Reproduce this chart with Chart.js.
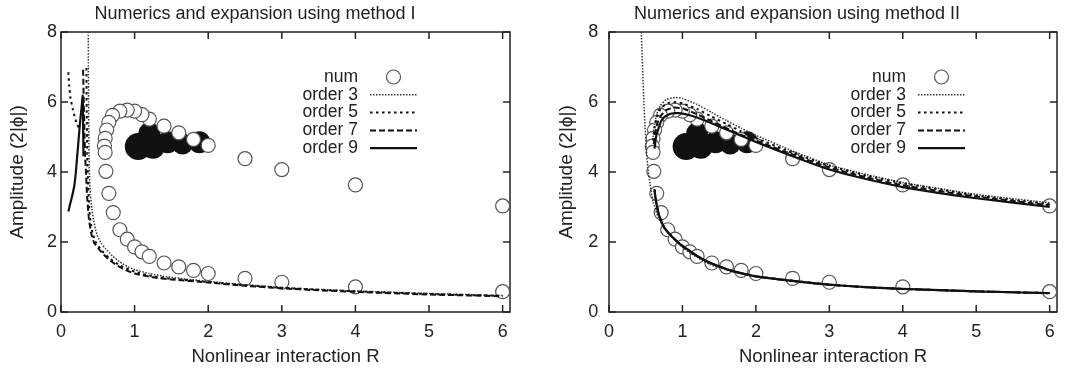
<!DOCTYPE html>
<html>
<head>
<meta charset="utf-8">
<script src="https://cdn.jsdelivr.net/npm/chart.js@4.4.0/dist/chart.umd.min.js"></script>
<style>
  body { margin: 0; background: #fff; }
  #wrap { position: relative; width: 1075px; height: 372px; }
  canvas { position: absolute; top: 0; }
</style>
</head>
<body>
<div id="wrap">
  <canvas id="chartI" width="537" height="372" style="left:0"></canvas>
  <canvas id="chartII" width="538" height="372" style="left:537px"></canvas>
</div>
<script>
// ---- axis ticks ----
const xTicks = [0, 1, 2, 3, 4, 5, 6];
const yTicks = [0, 2, 4, 6, 8];

// ---- numerics (open circles), same in both panels ----
const numR = [6.0, 4.0, 3.0, 2.5, 2.0, 1.8, 1.6, 1.4, 1.2, 1.1, 1.0, 0.9, 0.8, 0.7, 0.65, 0.62, 0.6, 0.59, 0.6, 0.61,
              0.65, 0.71, 0.8, 0.9, 1.0, 1.1, 1.2, 1.4, 1.6, 1.8, 2.0, 2.5, 3.0, 4.0, 6.0];
const numA = [3.03, 3.63, 4.07, 4.38, 4.76, 4.93, 5.12, 5.31, 5.51, 5.64, 5.74, 5.77, 5.74, 5.62, 5.42, 5.2, 4.96, 4.74, 4.56, 4.02,
              3.39, 2.84, 2.35, 2.08, 1.86, 1.72, 1.59, 1.40, 1.29, 1.19, 1.10, 0.96, 0.85, 0.72, 0.58];

// filled (black) points behind the upper branch, with their marker size
const blobR = [1.05, 1.25, 1.2, 1.45, 1.65, 1.88];
const blobA = [4.73, 4.72, 5.1, 4.85, 4.8, 4.85];
const blobSize = [13.5, 12, 11, 11, 10.5, 11];

// ---- method I expansions (null = break in the curve) ----
const m1o3R = [0.37, 0.372, 0.375, 0.378, 0.382, 0.39, 0.40, 0.42, 0.44, 0.47, 0.5, 0.55, 0.6, 0.7, 0.8, 0.9, 1.0, 1.2, 1.4, 1.7, 2.0, 2.5, 3.0, 3.5, 4.0, 5.0, 6.0];
const m1o3A = [8.0, 7.0, 6.0, 5.0, 4.3, 3.75, 3.35, 2.95, 2.65, 2.35, 2.15, 1.95, 1.82, 1.6, 1.43, 1.3, 1.21, 1.1, 1.02, 0.94, 0.875, 0.78, 0.7, 0.645, 0.6, 0.53, 0.47];

const m1o5R = [0.10, 0.11, 0.13, 0.16, 0.19, 0.22, 0.25, null, 0.345, 0.347, 0.35, 0.353, 0.357, 0.365, 0.38, 0.4, 0.43, 0.47, 0.55, 0.65, 0.8, 1.0, 1.25, 1.5, 2.0, 2.5, 3.0, 4.0, 5.0, 6.0];
const m1o5A = [6.85, 6.5, 6.1, 5.8, 5.55, 5.35, 5.25, null, 6.97, 6.3, 5.6, 5.0, 4.4, 3.8, 3.1, 2.6, 2.25, 2.0, 1.76, 1.55, 1.33, 1.15, 1.02, 0.95, 0.855, 0.765, 0.69, 0.59, 0.515, 0.46];

const m1o7R = [0.30, 0.305, 0.31, 0.318, 0.327, 0.34, 0.355, 0.38, 0.41, 0.45, 0.53, 0.6, 0.7, 0.8, 0.9, 1.0, 1.25, 1.5, 2.0, 2.5, 3.0, 3.5, 4.0, 5.0, 6.0];
const m1o7A = [6.92, 6.4, 5.9, 5.2, 4.5, 3.97, 3.3, 2.64, 2.25, 1.98, 1.76, 1.6, 1.42, 1.28, 1.18, 1.1, 0.99, 0.93, 0.84, 0.75, 0.675, 0.62, 0.575, 0.5, 0.45];

const m1o9R = [0.10, 0.12, 0.15, 0.18, 0.20, 0.22, 0.24, 0.26, 0.28, 0.295, 0.30, 0.305];
const m1o9A = [2.87, 3.05, 3.3, 3.6, 3.95, 4.45, 4.95, 5.45, 5.85, 6.18, 5.4, 4.45];

// ---- method II expansions ----
const m2o3R = [0.44, 0.45, 0.46, 0.475, 0.49, 0.51, 0.53, 0.56, 0.6, 0.67, 0.75, 0.85, 1.0, 1.1, 1.2, 1.37, 1.6, 1.8, 2.0, 2.5, 3.0, 3.5, 4.0, 5.0, 6.0,
               null, 0.6, 0.62, 0.65, 0.7, 0.78, 0.9, 1.0, 1.2, 1.4, 1.6, 1.8, 2.0, 2.5, 3.0, 3.5, 4.0, 5.0, 6.0];
const m2o3A = [8.0, 7.4, 6.8, 6.0, 5.3, 4.6, 4.1, 3.65, 3.15, 2.71, 2.4, 2.15, 1.85, 1.69, 1.56, 1.36, 1.2, 1.09, 1.01, 0.87, 0.77, 0.71, 0.66, 0.58, 0.53,
               null, 5.0, 5.35, 5.65, 5.9, 6.07, 6.13, 6.1, 5.93, 5.7, 5.47, 5.25, 5.05, 4.6, 4.2, 3.93, 3.7, 3.36, 3.12];

const m2o5upR = [0.6, 0.62, 0.65, 0.7, 0.78, 0.88, 1.0, 1.2, 1.4, 1.6, 1.8, 2.0, 2.5, 3.0, 3.5, 4.0, 5.0, 6.0];
const m2o5upA = [4.9, 5.25, 5.55, 5.8, 5.95, 6.0, 5.96, 5.8, 5.58, 5.37, 5.16, 4.97, 4.55, 4.18, 3.9, 3.68, 3.33, 3.08];
const m2o7upR = [0.61, 0.63, 0.66, 0.71, 0.78, 0.88, 1.0, 1.2, 1.4, 1.6, 1.8, 2.0, 2.5, 3.0, 3.5, 4.0, 5.0, 6.0];
const m2o7upA = [4.8, 5.1, 5.4, 5.62, 5.77, 5.84, 5.82, 5.65, 5.45, 5.25, 5.06, 4.9, 4.5, 4.13, 3.85, 3.62, 3.3, 3.05];
const m2o9upR = [0.62, 0.64, 0.67, 0.71, 0.76, 0.85, 0.95, 1.1, 1.3, 1.5, 1.75, 2.0, 2.5, 3.0, 3.5, 4.0, 5.0, 6.0];
const m2o9upA = [4.67, 5.0, 5.22, 5.45, 5.58, 5.67, 5.68, 5.62, 5.48, 5.3, 5.08, 4.86, 4.45, 4.07, 3.8, 3.57, 3.25, 3.0];
// lower branch: orders 5, 7 and 9 lie on top of each other
const m2lowR = [0.62, 0.63, 0.645, 0.665, 0.69, 0.75, 0.85, 0.95, 1.06, 1.2, 1.33, 1.5, 1.7, 2.0, 2.5, 3.0, 3.5, 4.0, 5.0, 6.0];
const m2lowA = [3.5, 3.3, 3.1, 2.9, 2.71, 2.42, 2.17, 1.97, 1.8, 1.6, 1.45, 1.3, 1.16, 1.02, 0.89, 0.78, 0.71, 0.66, 0.59, 0.54];

Chart.defaults.font.family = '"Liberation Sans", Arial, Helvetica, sans-serif';
Chart.defaults.color = '#222';

const pts = (rs, as) => rs.map((r, i) => ({ x: r, y: as[i] }));

const lineStyle = {
    'order 3': { borderDash: [1.5, 1.5], borderWidth: 1.5, borderColor: '#333', order: 4 },
    'order 5': { borderDash: [2.5, 3.5], borderWidth: 2, borderColor: '#111', order: 3 },
    'order 7': { borderDash: [6, 3], borderWidth: 2, borderColor: '#111', order: 2 },
    'order 9': { borderDash: [], borderWidth: 2.2, borderColor: '#111', order: 1 }
};

function lineSet(label, data) {
    return Object.assign({ label, data, showLine: true, pointRadius: 0, tension: 0.15, spanGaps: false, inLegend: true }, lineStyle[label]);
}

function pointSets() {
    return [
        { label: 'num', data: pts(numR, numA), showLine: false, pointRadius: 7, pointBackgroundColor: '#fff',
          pointBorderColor: '#555', pointBorderWidth: 1.2, order: 5, inLegend: true },
        { label: 'filled', data: pts(blobR, blobA), showLine: false, pointRadius: blobSize, pointBackgroundColor: '#111',
          pointBorderColor: '#111', pointBorderWidth: 0, order: 6 }
    ];
}

// gnuplot style box with inward ticks on all four sides
const frame = {
    id: 'frame',
    beforeDatasetsDraw(chart) {
        const { ctx, chartArea: a, scales: { x, y } } = chart;
        ctx.save();
        ctx.strokeStyle = '#222';
        ctx.lineWidth = 1.5;
        ctx.strokeRect(a.left, a.top, a.width, a.height);
        ctx.beginPath();
        xTicks.forEach(v => {
            const px = x.getPixelForValue(v);
            ctx.moveTo(px, a.bottom); ctx.lineTo(px, a.bottom - 7);
            ctx.moveTo(px, a.top); ctx.lineTo(px, a.top + 7);
        });
        yTicks.forEach(v => {
            const py = y.getPixelForValue(v);
            ctx.moveTo(a.left, py); ctx.lineTo(a.left + 7, py);
            ctx.moveTo(a.right, py); ctx.lineTo(a.right - 7, py);
        });
        ctx.stroke();
        ctx.restore();
    }
};

// key inside the plot: label right-aligned, sample to its right
const gnuKey = {
    id: 'gnuKey',
    afterDatasetsDraw(chart) {
        const { ctx, chartArea: a } = chart;
        const tx = a.left + 297, sx = tx + 12, ex = tx + 59;
        let row = 0;
        chart.data.datasets.forEach(ds => {
            if (!ds.inLegend) return;
            const y = a.top + 45 + row * 17.8;
            ctx.save();
            ctx.font = '17.5px "Liberation Sans", Arial, sans-serif';
            ctx.fillStyle = '#222';
            ctx.textAlign = 'right';
            ctx.textBaseline = 'middle';
            ctx.fillText(ds.label, tx, y);
            if (ds.showLine) {
                ctx.strokeStyle = ds.borderColor;
                ctx.lineWidth = ds.borderWidth;
                ctx.setLineDash(ds.borderDash);
                ctx.beginPath(); ctx.moveTo(sx, y); ctx.lineTo(ex, y); ctx.stroke();
            } else {
                ctx.fillStyle = ds.pointBackgroundColor;
                ctx.strokeStyle = ds.pointBorderColor;
                ctx.lineWidth = ds.pointBorderWidth;
                ctx.beginPath(); ctx.arc((sx + ex) / 2, y, ds.pointRadius, 0, Math.PI * 2); ctx.fill(); ctx.stroke();
            }
            ctx.restore();
            row++;
        });
    }
};

function makeChart(id, title, lines, yWidth, yPad, yTitlePad, rightPad) {
    return new Chart(document.getElementById(id), {
        type: 'scatter',
        data: { datasets: pointSets().concat(lines) },
        options: {
            responsive: false,
            animation: false,
            layout: { padding: { top: 0, right: rightPad, bottom: 0, left: 0 } },
            plugins: {
                legend: { display: false },
                tooltip: { enabled: false },
                title: { display: true, text: title, font: { size: 18, weight: 'normal' }, color: '#222', padding: { top: 3, bottom: 7.4 } }
            },
            scales: {
                x: {
                    type: 'linear', min: 0, max: 6.1,
                    afterBuildTicks: s => { s.ticks = xTicks.map(v => ({ value: v })); },
                    afterFit: s => { s.height = 60; },
                    grid: { display: false, drawTicks: false },
                    border: { display: false },
                    ticks: { padding: 9, font: { size: 18 }, color: '#222' },
                    title: { display: true, text: 'Nonlinear interaction R', font: { size: 18.5 }, color: '#222', padding: { top: 0, bottom: 3.5 } }
                },
                y: {
                    type: 'linear', min: 0, max: 8,
                    afterBuildTicks: s => { s.ticks = yTicks.map(v => ({ value: v })); },
                    afterFit: s => { s.width = yWidth; },
                    grid: { display: false, drawTicks: false },
                    border: { display: false },
                    ticks: { padding: yPad, font: { size: 18 }, color: '#222' },
                    title: { display: true, text: 'Amplitude (2|ϕ|)', font: { size: 19 }, color: '#222', padding: { top: yTitlePad, bottom: 0 } }
                }
            }
        },
        plugins: [frame, gnuKey]
    });
}

makeChart('chartI', 'Numerics and expansion using method I', [
    lineSet('order 3', pts(m1o3R, m1o3A)),
    lineSet('order 5', pts(m1o5R, m1o5A)),
    lineSet('order 7', pts(m1o7R, m1o7A)),
    lineSet('order 9', pts(m1o9R, m1o9A))
], 61, 4, 6.6, 27);

makeChart('chartII', 'Numerics and expansion using method II', [
    lineSet('order 3', pts(m2o3R, m2o3A)),
    lineSet('order 5', pts(m2o5upR.concat([null], m2lowR), m2o5upA.concat([null], m2lowA))),
    lineSet('order 7', pts(m2o7upR.concat([null], m2lowR), m2o7upA.concat([null], m2lowA))),
    lineSet('order 9', pts(m2o9upR.concat([null], m2lowR), m2o9upA.concat([null], m2lowA)))
], 72, 10.7, 18.4, 18);
</script>
</body>
</html>
